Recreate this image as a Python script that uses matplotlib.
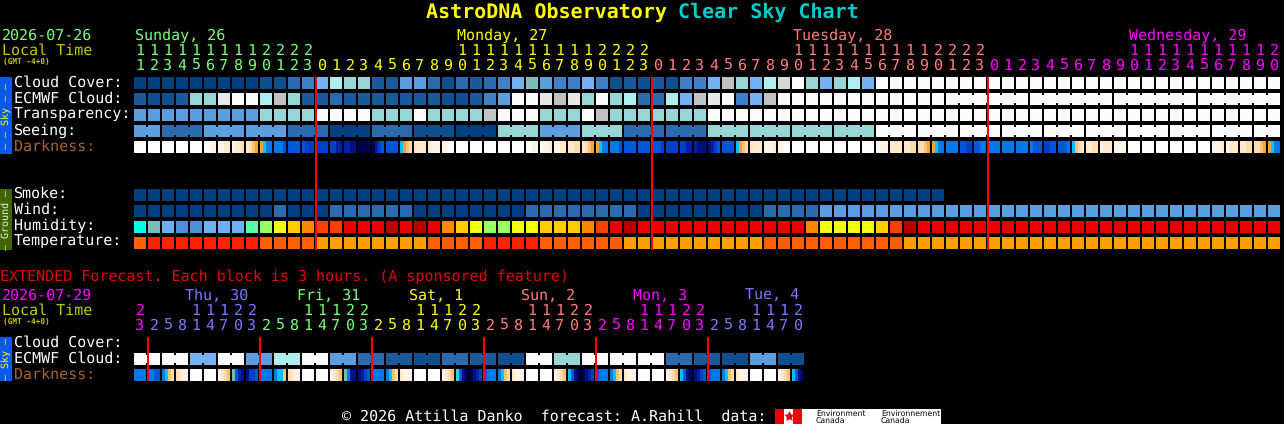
import matplotlib
matplotlib.use("Agg")
import matplotlib.pyplot as plt

W, H = 1284, 424
X0 = 134
PITCH = 14
CELL = 12
MONO = "DejaVu Sans Mono"
FS = 10.8

plt.rcParams["text.hinting"] = "no_hinting"

# sky condition colours, dark blue (good) up to white (bad)
sky_colors = ["#003f7f", "#0f4f8f", "#1a5a9a", "#2a6aad", "#4080c4", "#5b9ee0", "#74b2f5",
              "#80bcbc", "#96d6d4", "#aeeeee", "#c2c2c2", "#d8d8d8", "#e8e8e8", "#fcfcfc"]
hum_colors = ["#00ffe5", "#80bcbc", "#70b0f2", "#4f90d4", "#55ffaa", "#99ff66", "#eeff11",
              "#ffcc00", "#ff8800", "#ff3f00", "#e60000", "#b80000"]
temp_colors = ["#ff2000", "#ff5f00", "#ffa000"]
dark_colors = {"w": "#ffffff", "a": "#fff4e6", "b": "#ffe8cc", "c": "#ffdcae", "d": "#ffc070",
               "e": "#ffa030", "f": "#00c0ff", "g": "#0078e8", "h": "#0058d8", "i": "#0040c8",
               "j": "#0020a8", "k": "#001080", "l": "#000050", "m": "#70c0a0", "n": "#30d0d0"}

cloud_cover = [0] * 9 + [1, 1, 3, 4, 6, 9, 8, 8, 2, 2, 5, 5, 3, 1, 3, 2, 3, 4, 6, 7, 5, 4, 4, 6, 4, 1, 2, 1, 2, 1,
                         4, 4, 6, 10, 8, 6, 9, 11, 13, 8, 6, 8, 9, 6] + [13] * 29
ecmwf_cloud = [2, 1, 1, 2, 8, 8, 12, 13, 13, 9, 10, 8, 2, 2, 3, 2, 2, 2, 2, 2, 2, 2, 1, 1, 2, 4, 5, 13, 13, 12,
               10, 12, 8, 13, 8, 9, 3, 3, 9, 6, 10, 12, 13, 4, 6, 10] + [13] * 12 + [13] * 4
ecmwf_spans = [1] * 58 + [6] * 4
transparency = [5] * 9 + [8] * 4 + [13] * 4 + [8] * 3 + [13] + [8] * 4 + [10] + [13] * 3 + [8] * 3 + [13, 10] + \
    [8] * 7 + [13] * 41
seeing = [5, 3, 5, 5, 3, 0, 3, 1, 0, 8, 5, 8, 3, 3, 8, 8, 8, 8] + [13] * 10
seeing_spans = [2] + [3] * 26 + [2]
darkness = ["wwww"] * 5 + ["wwaa", "aabb", "abbc", "bcde", "efgg", "gggh", "hhhh", "hiii", "iiii", "iijj",
                           "jjkk", "llll", "ljih", "hhhh", "fedc", "bbbb", "baaa", "aaww"] + ["wwww"] * 5 + \
    ["wwaa", "waab", "aabb", "bbcc", "bcde", "efgg", "gggh", "hhhh", "hhhh", "hhhi", "iiii", "iijj", "jkkk", "kjih",
     "hhhh", "fedc", "bbbb", "aaab", "aaww"] + ["wwww"] * 6 + \
    ["aaaa", "bbbb", "bbcc", "ccde", "efgg", "gggg", "hhii", "hhgg", "gggg", "gggg", "gggg", "ghhh", "iihh", "hhhg",
     "fdcb", "bbcc", "abbb", "aaaa"] + ["wwww"] * 6 + ["aaab", "abbb", "bbcc", "ccde", "efgg"]
smoke = [0] * 58
wind = [0] * 10 + [3] + [0] * 3 + [3] * 6 + [0] * 8 + [3] * 8 + [0] * 9 + [3] * 4 + [5] * 33
humidity = [0, 1, 2, 3, 3, 2, 2, 2, 4, 5, 6, 7, 8, 9, 9, 10, 10, 10, 11, 10, 11, 10, 8, 7, 6, 5, 5, 6, 6, 7, 7, 7,
            8, 9, 10, 11, 10] + [10] * 11 + [8, 6, 6, 6, 6, 7, 9, 11] + [10] * 26
temperature = [1] + [0] * 8 + [1] * 4 + [2] * 8 + [1] * 4 + [0] * 4 + [1] * 6 + [2] * 10 + [1] * 10 + [2] * 27

hours = [11, 12, 13, 14, 15, 16, 17, 18, 19, 20, 21, 22, 23] + list(range(24)) + list(range(24)) + list(range(21))
hour_days = [0] * 13 + [1] * 24 + [2] * 24 + [3] * 21
day_colors = ["#78ff78", "#ffff00", "#ff7c7c", "#ff00ff"]
day_names = ["Sunday, 26", "Monday, 27", "Tuesday, 28", "Wednesday, 29"]
day_cols = [0, 23, 47, 71]
midnights = [13, 37, 61]

ext_ecmwf = [13, 13, 6, 13, 5, 9, 13, 5, 3, 2, 1, 3, 2, 1, 13, 8, 13, 13, 13, 3, 2, 1, 5, 1]
ext_spans = [2] * 24
ext_darkness = ["gggg", "gghh", "gfdc", "cbaa", "wwww", "wwww", "abcd", "mhjk", "kiih", "gggg", "gffd", "cbaa",
                "wwww", "wwww", "abcd", "mgkk", "kjih", "gggg", "gfdc", "baaa", "wwww", "wwww", "abcd", "nhkl",
                "lkji", "hggg", "gfdc", "baaa", "wwww", "wwww", "abcd", "fhkl", "lkji", "hggg", "gfdc", "baaa",
                "wwww", "wwww", "abcd", "fhkl", "kjih", "hggg", "gfdc", "baaa", "wwww", "wwww", "abcd", "fhkl"]
ext_hours = [23] + [2, 5, 8, 11, 14, 17, 20, 23] * 5 + [2, 5, 8, 11, 14, 17, 20]
ext_hour_days = [0] + [1] * 8 + [2] * 8 + [3] * 8 + [4] * 8 + [0] * 8 + [1] * 7
ext_day_colors = ["#ff00ff", "#7878ff", "#78ff78", "#ffff00", "#ff7c7c"]
ext_day_names = ["Thu, 30", "Fri, 31", "Sat, 1", "Sun, 2", "Mon, 3", "Tue, 4"]
ext_day_x = [185, 297, 409, 521, 633, 745]
ext_day_name_colors = ["#7878ff", "#78ff78", "#ffff00", "#ff7c7c", "#ff00ff", "#7878ff"]
ext_midnights = [1, 9, 17, 25, 33, 41]

fig = plt.figure(figsize=(W / 100, H / 100), dpi=100, facecolor="black")
ax = fig.add_axes([0, 0, 1, 1])
ax.set_xlim(0, W)
ax.set_ylim(H, 0)
ax.axis("off")


def box(x, y, w, h, color, z=2):
    ax.bar(x, h, w, bottom=y, align="edge", color=color, linewidth=0, antialiased=True, snap=False, zorder=z)


def label(x, y, s, color="white", size=FS, **kw):
    kw.setdefault("family", MONO)
    ax.text(x, y, s, color=color, fontsize=size, va="baseline", ha=kw.pop("ha", "left"), **kw)


def row(values, y, palette, spans=None):
    # spans joins neighbouring cells with a narrow bridge, one value per span
    col = 0
    spans = spans or [1] * len(values)
    for val, span in zip(values, spans):
        c = palette[val]
        for i in range(span):
            box(X0 + PITCH * (col + i), y, CELL, CELL, c)
            if i < span - 1:
                box(X0 + PITCH * (col + i) + CELL, y + 2, 2, CELL - 4, c)
        col += span


def dark_row(values, y):
    # four colour steps in every cell, the twilight gradient
    for col, cell in enumerate(values):
        for j, ch in enumerate(cell):
            box(X0 + PITCH * col + 3 * j, y, 3, CELL, dark_colors[ch])


def hour_labels(hrs, days, colors, y):
    for col, (hr, d) in enumerate(zip(hrs, days)):
        x = X0 + PITCH * col + 6
        if hr >= 10:
            label(x, y, str(hr // 10), colors[d], ha="center")
        label(x, y + 15, str(hr % 10), colors[d], ha="center")


def side_bar(y0, y1, color, text, tcolor):
    box(0, y0, 12, y1 - y0, color)
    ax.text(6, (y0 + y1) / 2, text, color=tcolor, fontsize=7.2, family=MONO, rotation=90,
            ha="center", va="center", zorder=3)


# title
label(426, 18, "AstroDNA Observatory", "#ffff00", 14.4, weight="bold")
label(678, 18, "Clear Sky Chart", "#00cccc", 14.4, weight="bold")

# main block header
label(2, 40, "2026-07-26", "#78ff78")
label(2, 55, "Local Time", "#c8c800")
label(3, 64, "(GMT -4+0)", "#c8c800", 5.6, weight="bold")
for name, col, c in zip(day_names, day_cols, day_colors):
    label(X0 + PITCH * col + 1, 40, name, c)
hour_labels(hours, hour_days, day_colors, 55)

# sky rows
for name, y in zip(["Cloud Cover:", "ECMWF Cloud:", "Transparency:", "Seeing:"], [87, 103, 119, 135]):
    label(14, y, name)
label(14, 151, "Darkness:", "#a8622d")
row(cloud_cover, 77, sky_colors)
row(ecmwf_cloud, 93, sky_colors, ecmwf_spans)
row(transparency, 109, sky_colors)
row(seeing, 125, sky_colors, seeing_spans)
dark_row(darkness, 141)
side_bar(77, 154, "#0a5ae6", "\u2013 \u2013 Sky \u2013 \u2013", "#ffff00")

# ground rows
for name, y in zip(["Smoke:", "Wind:", "Humidity:", "Temperature:"], [198, 214, 230, 246]):
    label(14, y, name)
row(smoke, 189, sky_colors)
row(wind, 205, sky_colors)
row(humidity, 221, hum_colors)
row(temperature, 237, temp_colors)
side_bar(189, 250, "#3f6600", "\u2013 Ground \u2013", "#f0f0e0")

for c in midnights:
    box(X0 + PITCH * c - 1, 77, 2, 173, "#ff0000", z=4)

# extended forecast
label(0, 281, "EXTENDED Forecast. Each block is 3 hours. (A sponsored feature)", "#e80000")
label(2, 300, "2026-07-29", "#ff00ff")
label(2, 315, "Local Time", "#c8c800")
label(3, 324, "(GMT -4+0)", "#c8c800", 5.6, weight="bold")
for name, x, c in zip(ext_day_names, ext_day_x, ext_day_name_colors):
    label(x, 300, name, c)
hour_labels(ext_hours, ext_hour_days, ext_day_colors, 315)

label(14, 347, "Cloud Cover:")
label(14, 363, "ECMWF Cloud:")
label(14, 379, "Darkness:", "#a8622d")
row(ext_ecmwf, 353, sky_colors, ext_spans)
dark_row(ext_darkness, 369)
side_bar(337, 381, "#0a5ae6", "\u2013 Sky \u2013", "#ffff00")

for c in ext_midnights:
    box(X0 + PITCH * c - 1, 337, 2, 44, "#ff0000", z=4)

# footer and the Environment Canada logo
label(342, 421, "\u00a9 2026 Attilla Danko  forecast: A.Rahill  data:")
box(775, 409, 166, 15, "#ffffff")
box(775, 409, 9, 15, "#ee0000", z=3)
box(793, 409, 9, 15, "#ee0000", z=3)
ax.scatter([788.5], [416], marker=(5, 1), s=60, color="#ee0000", linewidths=0, zorder=3)
for x, name in [(816, "Environment"), (881, "Environnement")]:
    label(x, 416, name, "black", 5.6, family="DejaVu Sans", zorder=3)
    label(x, 423, "Canada", "black", 5.6, family="DejaVu Sans", zorder=3)

fig.savefig("out.png", dpi=100, facecolor="black")
